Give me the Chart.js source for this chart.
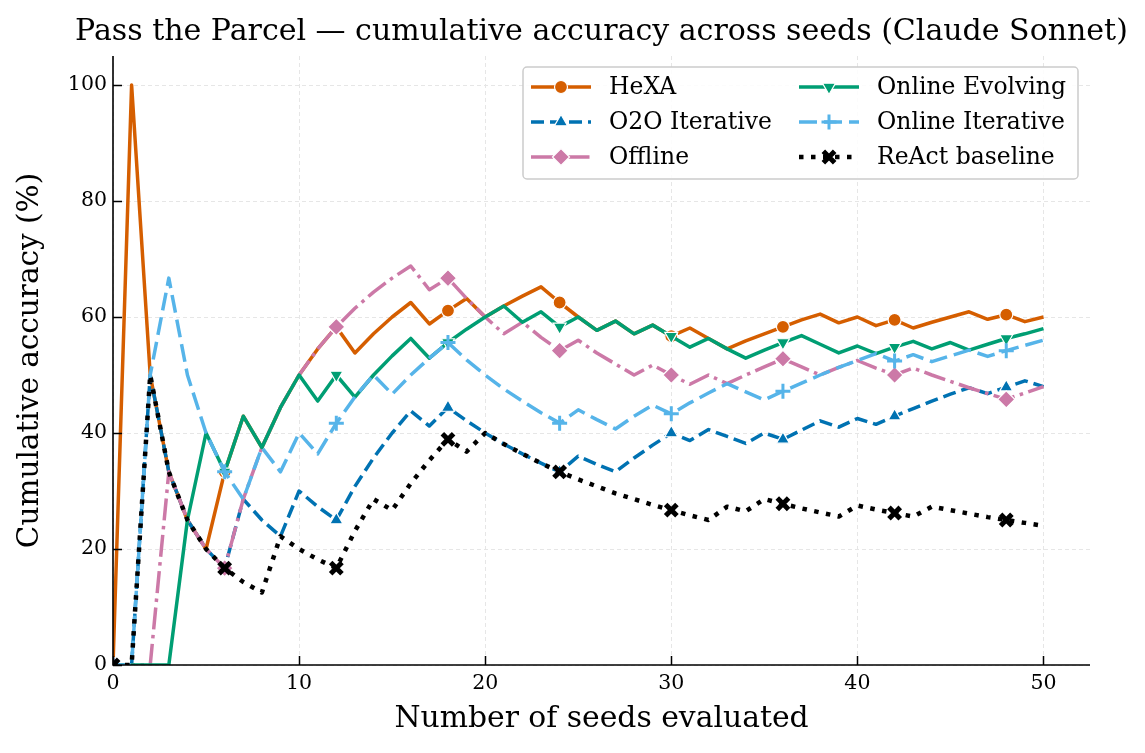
<!DOCTYPE html>
<html>
<head>
<meta charset="utf-8">
<title>Pass the Parcel — cumulative accuracy</title>
<script src="https://cdn.jsdelivr.net/npm/chart.js@4.4.0/dist/chart.umd.min.js"></script>
<style>
  html, body { margin: 0; padding: 0; background: #fff; }
  #wrap { width: 1145px; height: 753px; }
</style>
</head>
<body>
<div id="wrap"><canvas id="chart" width="1145" height="753"></canvas></div>
<script>
// Datos: precisión acumulada (%) tras cada semilla evaluada
const seeds = [0, 1, 2, 3, 4, 5, 6, 7, 8, 9, 10, 11, 12, 13, 14, 15, 16, 17, 18, 19, 20,
    21, 22, 23, 24, 25, 26, 27, 28, 29, 30, 31, 32, 33, 34, 35, 36, 37, 38, 39, 40,
    41, 42, 43, 44, 45, 46, 47, 48, 49, 50];
const xTicks = [0, 10, 20, 30, 40, 50];
const yTicks = [0, 20, 40, 60, 80, 100];
const seriesNames = ['HeXA', 'O2O Iterative', 'Offline', 'Online Evolving', 'Online Iterative', 'ReAct baseline'];

const hexa = [0, 100, 50, 33.3, 25, 20, 33.3, 42.9, 37.5, 44.4, 50, 54.5, 58.3, 53.8, 57.1, 60, 62.5, 58.8, 61.1, 63.2, 60,
    61.9, 63.6, 65.2, 62.5, 60, 57.7, 59.3, 57.1, 58.6, 56.7, 58.1, 56.3, 54.5, 55.9, 57.1, 58.3, 59.5, 60.5, 59, 60,
    58.5, 59.5, 58.1, 59.1, 60, 60.9, 59.6, 60.4, 59.2, 60];
const o2oIterative = [0, 0, 50, 33.3, 25, 20, 16.7, 28.6, 25, 22.2, 30, 27.3, 25, 30.8, 35.7, 40, 43.8, 41.2, 44.4, 42.1, 40,
    38.1, 36.4, 34.8, 33.3, 36, 34.6, 33.3, 35.7, 37.9, 40, 38.7, 40.6, 39.4, 38.2, 40, 38.9, 40.5, 42.1, 41, 42.5,
    41.5, 42.9, 44.2, 45.5, 46.7, 47.8, 46.8, 47.9, 49, 48];
const offline = [0, 0, 0, 33.3, 25, 20, 16.7, 28.6, 37.5, 44.4, 50, 54.5, 58.3, 61.5, 64.3, 66.7, 68.8, 64.7, 66.7, 63.2, 60,
    57.1, 59.1, 56.5, 54.2, 56, 53.8, 51.9, 50, 51.7, 50, 48.4, 50, 48.5, 50, 51.4, 52.8, 51.4, 50, 51.3, 52.5,
    51.2, 50, 51.2, 50, 48.9, 47.8, 46.8, 45.8, 46.9, 48];
const onlineEvolving = [0, 0, 0, 0, 25, 40, 33.3, 42.9, 37.5, 44.4, 50, 45.5, 50, 46.2, 50, 53.3, 56.3, 52.9, 55.6, 57.9, 60,
    61.9, 59.1, 60.9, 58.3, 60, 57.7, 59.3, 57.1, 58.6, 56.7, 54.8, 56.3, 54.5, 52.9, 54.3, 55.6, 56.8, 55.3, 53.8, 55,
    53.7, 54.8, 55.8, 54.5, 55.6, 54.3, 55.3, 56.3, 57.1, 58];
const onlineIterative = [0, 0, 50, 66.7, 50, 40, 33.3, 28.6, 37.5, 33.3, 40, 36.4, 41.7, 46.2, 50, 46.7, 50, 52.9, 55.6, 52.6, 50,
    47.6, 45.5, 43.5, 41.7, 44, 42.3, 40.7, 42.9, 44.8, 43.3, 45.2, 46.9, 48.5, 47.1, 45.7, 47.2, 48.6, 50, 51.3, 52.5,
    53.7, 52.4, 53.5, 52.3, 53.3, 54.3, 53.2, 54.2, 55.1, 56];
const reactBaseline = [0, 0, 50, 33.3, 25, 20, 16.7, 14.3, 12.5, 22.2, 20, 18.2, 16.7, 23.1, 28.6, 26.7, 31.3, 35.3, 38.9, 36.8, 40,
    38.1, 36.4, 34.8, 33.3, 32, 30.8, 29.6, 28.6, 27.6, 26.7, 25.8, 25, 27.3, 26.5, 28.6, 27.8, 27, 26.3, 25.6, 27.5,
    26.8, 26.2, 25.6, 27.3, 26.7, 26.1, 25.5, 25, 24.5, 24];

const series = [hexa, o2oIterative, offline, onlineEvolving, onlineIterative, reactBaseline];

// Estilo de cada serie (paleta Okabe-Ito, marcadores cada 6 puntos)
const SERIF = '"DejaVu Serif", serif';
const STYLES = [
    { color: '#D55E00', dash: [], width: 3.5, point: 'circle', r: 6.5, rot: 0, edge: '#fff', ew: 1.2 },
    { color: '#0072B2', dash: [13, 6], width: 3.5, point: 'triangle', r: 7.5, rot: 0, edge: '#fff', ew: 1.2 },
    { color: '#CC79A7', dash: [22, 5.5, 3.5, 5.5], width: 3.5, point: 'rectRot', r: 8.5, rot: 0, edge: '#fff', ew: 1.2 },
    { color: '#009E73', dash: [], width: 3.5, point: 'triangle', r: 7.5, rot: 180, edge: '#fff', ew: 1.2 },
    { color: '#56B4E9', dash: [18, 7], width: 3.5, point: 'cross', r: 7.5, rot: 0, edge: '#56B4E9', ew: 3 },
    { color: '#000000', dash: [4.5, 7.5], width: 4.5, point: 'crossRot', r: 8, rot: 0, edge: '#000000', ew: 5 }
];
const MARK_EVERY = 6;
const TICK_LEN = 9;

// Marcador pequeño reutilizado en la leyenda
function drawMarker(ctx, s, x, y) {
    ctx.save();
    ctx.setLineDash([]);
    ctx.fillStyle = s.color;
    ctx.strokeStyle = s.edge;
    ctx.lineWidth = s.ew;
    if (Chart.helpers && Chart.helpers.drawPoint) {
        Chart.helpers.drawPoint(ctx, { pointStyle: s.point, rotation: s.rot, radius: s.r, borderWidth: s.ew }, x, y);
    } else {
        ctx.beginPath(); ctx.arc(x, y, s.r, 0, Math.PI * 2); ctx.fill();
    }
    ctx.restore();
}

// Título, ejes (spines + marcas hacia dentro) y leyenda a dos columnas
const decorations = {
    id: 'decorations',
    afterDatasetsDraw(chart) {
        const { ctx, chartArea: a, scales } = chart;
        ctx.save();
        ctx.setLineDash([]);
        ctx.strokeStyle = '#000';
        ctx.lineWidth = 1.6;
        ctx.beginPath();
        ctx.moveTo(a.left, a.top);
        ctx.lineTo(a.left, a.bottom);
        ctx.lineTo(a.right, a.bottom);
        ctx.stroke();
        ctx.lineWidth = 1.5;
        ctx.beginPath();
        xTicks.forEach((v) => {
            const px = Math.round(scales.x.getPixelForValue(v)) + 0.5;
            ctx.moveTo(px, a.bottom);
            ctx.lineTo(px, a.bottom - TICK_LEN);
        });
        yTicks.forEach((v) => {
            const py = Math.round(scales.y.getPixelForValue(v)) + 0.5;
            ctx.moveTo(a.left, py);
            ctx.lineTo(a.left + TICK_LEN, py);
        });
        ctx.stroke();
        ctx.restore();
    },
    afterDraw(chart) {
        const { ctx, chartArea: a } = chart;
        ctx.save();
        ctx.fillStyle = '#000';
        ctx.font = '30px ' + SERIF;
        ctx.textAlign = 'center';
        ctx.textBaseline = 'middle';
        ctx.fillText('Pass the Parcel — cumulative accuracy across seeds (Claude Sonnet)', (a.left + a.right) / 2, 32);

        // Caja de la leyenda
        const box = { x: 523, y: 67, w: 555, h: 112 };
        ctx.beginPath();
        ctx.roundRect(box.x, box.y, box.w, box.h, 4);
        ctx.fillStyle = 'rgba(255,255,255,0.85)';
        ctx.fill();
        ctx.strokeStyle = '#cccccc';
        ctx.lineWidth = 1.5;
        ctx.stroke();

        const cols = [531, 799];
        const rows = [87, 122, 157];
        seriesNames.forEach((name, i) => {
            const s = STYLES[i];
            const hx = cols[Math.floor(i / 3)];
            const hy = rows[i % 3];
            ctx.save();
            ctx.strokeStyle = s.color;
            ctx.lineWidth = s.width;
            ctx.setLineDash(s.dash);
            ctx.beginPath();
            ctx.moveTo(hx, hy);
            ctx.lineTo(hx + 60, hy);
            ctx.stroke();
            ctx.restore();
            drawMarker(ctx, s, hx + 30, hy);
            ctx.fillStyle = '#000';
            ctx.font = '23.5px ' + SERIF;
            ctx.textAlign = 'left';
            ctx.textBaseline = 'middle';
            ctx.fillText(name, hx + 78, hy + 1);
        });
        ctx.restore();
    }
};

const gridOpts = { color: '#e6e6e6', lineWidth: 1, drawTicks: false };

new Chart(document.getElementById('chart'), {
    type: 'line',
    data: {
        datasets: series.map((vals, i) => {
            const s = STYLES[i];
            return {
                label: seriesNames[i],
                data: seeds.map((x, j) => ({ x, y: vals[j] })),
                borderColor: s.color,
                backgroundColor: s.color,
                borderWidth: s.width,
                borderDash: s.dash,
                borderCapStyle: 'butt',
                borderJoinStyle: 'round',
                tension: 0,
                fill: false,
                pointStyle: s.point,
                pointRotation: s.rot,
                pointRadius: (ctx) => (ctx.dataIndex % MARK_EVERY === 0 ? s.r : 0),
                pointHoverRadius: 0,
                pointBackgroundColor: s.color,
                pointBorderColor: s.edge,
                pointBorderWidth: s.ew,
                order: series.length - i,
                clip: { left: 0, top: 0, right: 0, bottom: 0 }
            };
        })
    },
    plugins: [decorations],
    options: {
        responsive: false,
        animation: false,
        devicePixelRatio: 1,
        layout: { padding: { left: 0, right: 55, top: 56, bottom: 0 } },
        plugins: { legend: { display: false }, tooltip: { enabled: false }, title: { display: false } },
        scales: {
            x: {
                type: 'linear',
                min: 0,
                max: 52.5,
                afterBuildTicks: (scale) => { scale.ticks = xTicks.map((v) => ({ value: v })); },
                afterFit: (scale) => { scale.height = 88; },
                grid: gridOpts,
                border: { display: false, dash: [4, 3] },
                ticks: { color: '#000', font: { family: SERIF, size: 20.5 }, padding: 6, maxRotation: 0 },
                title: { display: true, text: 'Number of seeds evaluated', color: '#000',
                    font: { family: SERIF, size: 29.8 }, padding: { top: 0, bottom: 16 } }
            },
            y: {
                min: 0,
                max: 105,
                afterBuildTicks: (scale) => { scale.ticks = yTicks.map((v) => ({ value: v })); },
                afterFit: (scale) => { scale.width = 113; },
                grid: gridOpts,
                border: { display: false, dash: [4, 3] },
                ticks: { color: '#000', font: { family: SERIF, size: 20.5 }, padding: 6 },
                title: { display: true, text: 'Cumulative accuracy (%)', color: '#000',
                    font: { family: SERIF, size: 29.5 }, padding: { top: 13, bottom: 0 } }
            }
        }
    }
});
</script>
</body>
</html>
